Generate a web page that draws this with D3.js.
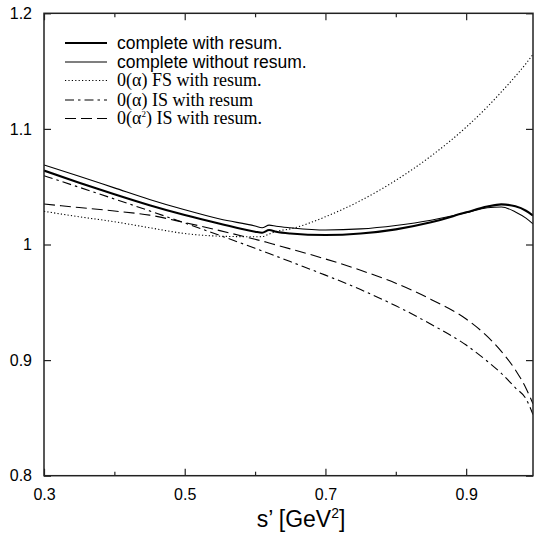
<!DOCTYPE html>
<html>
<head>
<meta charset="utf-8">
<script src="https://cdn.jsdelivr.net/npm/d3@7"></script>
<style>
    html, body { margin: 0; padding: 0; background: #fff; }
    svg { display: block; }
    .sans { font-family: "Liberation Sans", Arial, Helvetica, sans-serif; }
    .serif { font-family: "Liberation Serif", "Times New Roman", serif; }
</style>
</head>
<body>
<div id="chart"></div>
<script>
// s' grid shared by every curve
var sgrid = [0.3, 0.35, 0.4, 0.45, 0.5, 0.55, 0.6, 0.61, 0.62, 0.63, 0.65, 0.7,
             0.75, 0.8, 0.85, 0.9, 0.93, 0.95, 0.97, 0.985, 0.995];

var completeResum = [1.064, 1.0535, 1.0435, 1.034, 1.0255, 1.018, 1.0111, 1.0102, 1.0125, 1.011, 1.0095, 1.0082,
                     1.0095, 1.0131, 1.0192, 1.0278, 1.0328, 1.0347, 1.033, 1.0292, 1.025];
var completeNoResum = [1.0688, 1.059, 1.049, 1.039, 1.030, 1.022, 1.016, 1.0145, 1.0168, 1.0158, 1.0145, 1.0125,
                       1.0135, 1.0165, 1.021, 1.0275, 1.0318, 1.0325, 1.0282, 1.0228, 1.0178];
var fsResum = [1.0287, 1.024, 1.0197, 1.0145, 1.0095, 1.0072, 1.0067, 1.0068, 1.009, 1.0113, 1.0135, 1.024,
               1.038, 1.0555, 1.0765, 1.1015, 1.119, 1.132, 1.1455, 1.1565, 1.1645];
var isResum = [1.0595, 1.0495, 1.0394, 1.0291, 1.0186, 1.0078, 0.9967, 0.9944, 0.9922, 0.9899, 0.9852, 0.9735,
               0.961, 0.947, 0.931, 0.913, 0.899, 0.8885, 0.876, 0.8665, 0.853];
var is2Resum = [1.035, 1.032, 1.029, 1.0254, 1.019, 1.012, 1.0045, 1.003, 1.0013, 0.9996, 0.9962, 0.9875,
                0.9777, 0.9665, 0.9525, 0.9355, 0.9205, 0.9075, 0.8915, 0.8757, 0.8622];

var xMajor = [0.3, 0.5, 0.7, 0.9];
var xMinor = [0.4, 0.6, 0.8];
var yMajor = [0.8, 0.9, 1.0, 1.1, 1.2];
var yLabels = ['0.8', '0.9', '1', '1.1', '1.2'];

var W = 534, H = 533;
var x0 = 44, x1 = 533, y0 = 475.7, y1 = 13.3;

var svg = d3.select('#chart').append('svg')
    .attr('width', W)
    .attr('height', H);

var x = d3.scaleLinear().domain([0.3, 0.995]).range([x0, x1]);
var y = d3.scaleLinear().domain([0.8, 1.2]).range([y0, y1]);

// series: values + drawing style
var series = [
    {name: 'complete with resum.', values: completeResum, width: 2.1, dash: null, font: 'sans'},
    {name: 'complete without resum.', values: completeNoResum, width: 1.1, dash: null, font: 'sans'},
    {name: 'FS', values: fsResum, width: 1.1, dash: '1.2,2.2', font: 'serif'},
    {name: 'IS', values: isResum, width: 1.1, dash: '9,4,2.5,4', font: 'serif'},
    {name: 'IS2', values: is2Resum, width: 1.1, dash: '11,5', font: 'serif'},
];

var line = d3.line()
    .x(d => x(d[0]))
    .y(d => y(d[1]))
    .curve(d3.curveMonotoneX);

svg.append('defs').append('clipPath').attr('id', 'clip')
    .append('rect')
    .attr('x', x0).attr('y', y1)
    .attr('width', x1 - x0).attr('height', y0 - y1);

var gLines = svg.append('g').attr('clip-path', 'url(#clip)');
series.forEach(function(s) {
    gLines.append('path')
        .datum(sgrid.map((v, i) => [v, s.values[i]]))
        .attr('d', line)
        .attr('fill', 'none')
        .attr('stroke', '#000')
        .attr('stroke-width', s.width)
        .attr('stroke-dasharray', s.dash);
});

// axes, ticks inward on all four sides
function styleAxis(g) {
    g.select('.domain').remove();
    g.selectAll('line').attr('stroke', '#222').attr('stroke-width', 1.2);
    g.selectAll('text')
        .attr('class', 'sans')
        .style('font-size', '16px')
        .attr('fill', '#000');
}

svg.append('g')
    .attr('transform', 'translate(0,' + y0 + ')')
    .call(d3.axisBottom(x).tickValues(xMajor).tickSize(-7).tickPadding(13).tickFormat(d3.format('.1f')))
    .call(styleAxis);
svg.append('g')
    .attr('transform', 'translate(0,' + y0 + ')')
    .call(d3.axisBottom(x).tickValues(xMinor).tickSize(-4).tickFormat(''))
    .call(styleAxis);
svg.append('g')
    .attr('transform', 'translate(0,' + y1 + ')')
    .call(d3.axisTop(x).tickValues(xMajor).tickSize(-7).tickFormat(''))
    .call(styleAxis);
svg.append('g')
    .attr('transform', 'translate(0,' + y1 + ')')
    .call(d3.axisTop(x).tickValues(xMinor).tickSize(-4).tickFormat(''))
    .call(styleAxis);
svg.append('g')
    .attr('transform', 'translate(' + x0 + ',0)')
    .call(d3.axisLeft(y).tickValues(yMajor).tickSize(-7).tickPadding(12)
        .tickFormat((d, i) => yLabels[i]))
    .call(styleAxis);
svg.append('g')
    .attr('transform', 'translate(' + x1 + ',0)')
    .call(d3.axisRight(y).tickValues(yMajor).tickSize(-7).tickFormat(''))
    .call(styleAxis);

svg.append('rect')
    .attr('x', x0).attr('y', y1)
    .attr('width', x1 - x0).attr('height', y0 - y1)
    .attr('fill', 'none')
    .attr('stroke', '#222')
    .attr('stroke-width', 1.5);

// x title
var title = svg.append('text')
    .attr('class', 'sans')
    .attr('x', 301).attr('y', 527)
    .attr('text-anchor', 'middle')
    .style('font-size', '23px');
title.append('tspan').text('s\u2019 [GeV');
title.append('tspan').attr('dy', -9).style('font-size', '14px').text('2');
title.append('tspan').attr('dy', 9).text(']');

// legend
var legY = [43, 62, 80.5, 100, 118.5];
var leg = svg.append('g');
series.forEach(function(s, i) {
    leg.append('line')
        .attr('x1', 65).attr('x2', 107)
        .attr('y1', legY[i]).attr('y2', legY[i])
        .attr('stroke', '#000')
        .attr('stroke-width', s.width)
        .attr('stroke-dasharray', s.dash);
    var t = leg.append('text')
        .attr('class', s.font)
        .attr('x', 117).attr('y', legY[i] + 5.5)
        .style('font-size', s.font === 'sans' ? '17.5px' : '18px');
    if (s.font === 'sans') {
        t.text(s.name);
    } else if (s.name === 'FS') {
        t.text('0(\u03b1) FS with resum.');
    } else if (s.name === 'IS') {
        t.text('0(\u03b1) IS with resum');
    } else {
        t.append('tspan').text('0(\u03b1');
        t.append('tspan').attr('dy', -7).style('font-size', '9px').text('2');
        t.append('tspan').attr('dy', 7).text(') IS with resum.');
    }
});
</script>
</body>
</html>
